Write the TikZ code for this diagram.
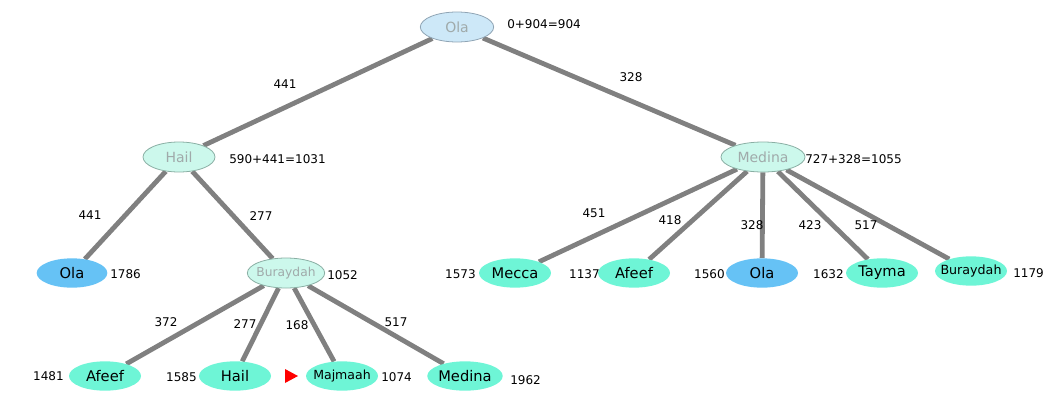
\documentclass[tikz,border=0pt]{standalone}
\usepackage{fontspec}
\setmainfont{DejaVu Sans}
\usetikzlibrary{shapes.geometric,backgrounds}
\definecolor{edgegray}{HTML}{808080}
\definecolor{rootfill}{HTML}{CDE8F8}
\definecolor{rootdraw}{HTML}{8FA4B4}
\definecolor{midfill}{HTML}{CCF8EC}
\definecolor{middraw}{HTML}{8AAFA4}
\definecolor{leaffill}{HTML}{6EF5D6}
\definecolor{olafill}{HTML}{66C2F5}
\definecolor{greytext}{HTML}{A0AAAA}
\tikzset{
  base/.style={ellipse, inner sep=0pt, minimum height=22.5pt},
  rootnode/.style={base, fill=rootfill, draw=rootdraw, line width=0.6pt, text=greytext, font=\fontsize{10.5}{12}\selectfont},
  midnode/.style={base, fill=midfill, draw=middraw, line width=0.6pt, text=greytext, font=\fontsize{10.5}{12}\selectfont},
  leafnode/.style={base, fill=leaffill, font=\fontsize{11}{13}\selectfont, minimum height=22pt},
  olanode/.style={base, fill=olafill, font=\fontsize{11}{13}\selectfont, minimum height=22pt},
  num/.style={font=\fontsize{9}{11}\selectfont, inner sep=0pt},
  elabel/.style={font=\fontsize{9}{11}\selectfont, inner sep=0pt},
  edge/.style={draw=edgegray, line width=3.6pt},
}
\begin{document}
\begin{tikzpicture}[x=0.75pt,y=-0.75pt]
\useasboundingbox (0,0) rectangle (1052,400);
% nodes
\node[rootnode, minimum width=55pt] (root) at (457,27) {Ola};
\node[midnode, minimum width=54pt] (hail) at (179,157) {Hail};
\node[midnode, minimum width=63pt] (medina) at (763,157) {Medina};
\node[olanode, minimum width=53pt] (olaL) at (72,273) {Ola};
\node[midnode, minimum width=58pt, font=\fontsize{9.2}{11}\selectfont] (bur) at (286,273) {\makebox[0pt]{Buraydah}};
\node[leafnode, minimum width=54pt] (afeefL) at (105,376) {Afeef};
\node[leafnode, minimum width=54pt] (hailL) at (235,376) {Hail};
\node[leafnode, minimum width=54pt, font=\fontsize{9.4}{11}\selectfont] (majmaah) at (342,376) {\makebox[0pt]{Majmaah}};
\node[leafnode, minimum width=54pt] (medinaL) at (465,376) {Medina};
\node[leafnode, minimum width=54pt] (mecca) at (515,273) {Mecca};
\node[leafnode, minimum width=54pt] (afeefR) at (634,273) {Afeef};
\node[olanode, minimum width=54pt] (olaR) at (762,273) {Ola};
\node[leafnode, minimum width=54pt] (tayma) at (882,273) {Tayma};
\node[leafnode, minimum width=54pt, font=\fontsize{9.5}{11}\selectfont] (burR) at (971,271) {\makebox[0pt]{Buraydah}};
% edges
\begin{pgfonlayer}{background}
\draw[edge] (root) -- (hail);
\draw[edge] (root) -- (medina);
\draw[edge] (hail) -- (olaL);
\draw[edge] (hail) -- (bur);
\draw[edge] (bur) -- (afeefL);
\draw[edge] (bur) -- (hailL);
\draw[edge] (bur) -- (majmaah);
\draw[edge] (bur) -- (medinaL);
\draw[edge] (medina) -- (mecca);
\draw[edge] (medina) -- (afeefR);
\draw[edge] (medina) -- (olaR);
\draw[edge] (medina) -- (tayma);
\draw[edge] (medina) -- (burR);
\end{pgfonlayer}
% cost labels
\node[num, anchor=west] (c1) at (507,24) {0+904=904};
\node[num, anchor=west] (c2) at (229,159) {590+441=1031};
\node[num, anchor=west] (c3) at (805,159) {727+328=1055};
\node[num, anchor=west] (c4) at (110,274) {1786};
\node[num, anchor=west] (c5) at (327,275) {1052};
\node[num, anchor=east] (c6) at (64,376) {1481};
\node[num, anchor=east] (c7) at (197,377) {1585};
\node[num, anchor=west] (c8) at (381,377) {1074};
\node[num, anchor=west] (c9) at (510,380) {1962};
\node[num, anchor=east] (c10) at (476,274) {1573};
\node[num, anchor=east] (c11) at (600,274) {1137};
\node[num, anchor=east] (c12) at (725,274) {1560};
\node[num, anchor=east] (c13) at (844,274) {1632};
\node[num, anchor=west] (c14) at (1013,273) {1179};
% edge labels
\node[elabel] (e1) at (285,84) {441};
\node[elabel] (e2) at (631,77) {328};
\node[elabel] (e3) at (90,215) {441};
\node[elabel] (e4) at (261,216) {277};
\node[elabel] (e5) at (594,213) {451};
\node[elabel] (e6) at (670,220) {418};
\node[elabel] (e7) at (752,225) {328};
\node[elabel] (e8) at (810,225) {423};
\node[elabel] (e9) at (866,225) {517};
\node[elabel] (e10) at (166,322) {372};
\node[elabel] (e11) at (245,324) {277};
\node[elabel] (e12) at (297,325) {168};
\node[elabel] (e13) at (396,322) {517};
% red marker
\fill[red] (285,369) -- (298,376) -- (285,383) -- cycle;
\end{tikzpicture}
\end{document}
